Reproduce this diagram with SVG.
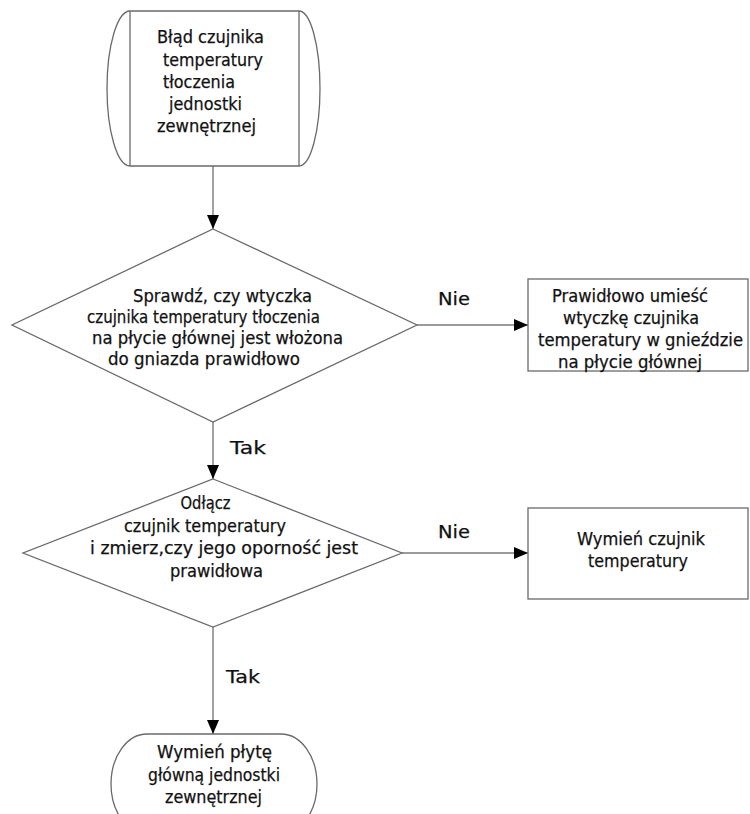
<svg xmlns="http://www.w3.org/2000/svg" width="750" height="814" viewBox="0 0 750 814">
<defs>
<style>
.shape{fill:#fff;stroke:#6a6a6a;stroke-width:1.3}
.conn{fill:none;stroke:#7a7a7a;stroke-width:1.4}
text{font-family:"DejaVu Sans","Verdana",sans-serif;font-size:17px;fill:#111;stroke:#111;stroke-width:0.25;text-anchor:middle}
.lbl{font-size:18px}
</style>
<marker id="arr" markerUnits="userSpaceOnUse" markerWidth="14" markerHeight="12" refX="14" refY="6" orient="auto">
<path d="M0,0 L14,6 L0,12 z" fill="#000"/>
</marker>
</defs>
<rect width="750" height="814" fill="#fff"/>

<g id="connectors">
<line class="conn" x1="213" y1="166" x2="213" y2="229" marker-end="url(#arr)"/>
<line class="conn" x1="213" y1="422" x2="213" y2="479" marker-end="url(#arr)"/>
<line class="conn" x1="213" y1="627" x2="213" y2="734" marker-end="url(#arr)"/>
<line class="conn" x1="417" y1="325" x2="528" y2="325" marker-end="url(#arr)"/>
<line class="conn" x1="402" y1="553" x2="528" y2="553" marker-end="url(#arr)"/>
<text class="lbl" x="248" y="454" textLength="36" lengthAdjust="spacingAndGlyphs">Tak</text>
<text class="lbl" x="243" y="683" textLength="34" lengthAdjust="spacingAndGlyphs">Tak</text>
<text class="lbl" x="454" y="305" textLength="32" lengthAdjust="spacingAndGlyphs">Nie</text>
<text class="lbl" x="454" y="538" textLength="32" lengthAdjust="spacingAndGlyphs">Nie</text>
</g>

<g id="start">
<path class="shape" d="M130,11 H299 A21,77.5 0 0 1 299,166 H130 A23,77.5 0 0 1 130,11 z"/>
<line class="shape" x1="130" y1="11" x2="130" y2="166"/>
<line class="shape" x1="299" y1="11" x2="299" y2="166"/>
<text x="210.5" y="43" textLength="107" lengthAdjust="spacingAndGlyphs">Błąd czujnika</text>
<text x="213" y="66" textLength="100" lengthAdjust="spacingAndGlyphs">temperatury</text>
<text x="199" y="88" textLength="72" lengthAdjust="spacingAndGlyphs">tłoczenia</text>
<text x="205.5" y="110" textLength="73" lengthAdjust="spacingAndGlyphs">jednostki</text>
<text x="206.5" y="132" textLength="99" lengthAdjust="spacingAndGlyphs">zewnętrznej</text>
</g>

<g id="decision1">
<polygon class="shape" points="213,229 417,325 213,422 12,325"/>
<text x="222.5" y="302" textLength="179" lengthAdjust="spacingAndGlyphs">Sprawdź, czy wtyczka</text>
<text x="203.5" y="323" textLength="233" lengthAdjust="spacingAndGlyphs">czujnika temperatury tłoczenia</text>
<text x="217.5" y="344" textLength="251" lengthAdjust="spacingAndGlyphs">na płycie głównej jest włożona</text>
<text x="204" y="365" textLength="192" lengthAdjust="spacingAndGlyphs">do gniazda prawidłowo</text>
</g>

<g id="fix-plug">
<rect class="shape" x="528" y="279" width="220" height="92"/>
<text x="630" y="302" textLength="156" lengthAdjust="spacingAndGlyphs">Prawidłowo umieść</text>
<text x="631" y="324" textLength="136" lengthAdjust="spacingAndGlyphs">wtyczkę czujnika</text>
<text x="640.5" y="346" textLength="205" lengthAdjust="spacingAndGlyphs">temperatury w gnieździe</text>
<text x="630" y="368" textLength="144" lengthAdjust="spacingAndGlyphs">na płycie głównej</text>
</g>

<g id="decision2">
<polygon class="shape" points="213,479 402,553 213,627 23,553"/>
<text x="205.5" y="509" textLength="50" lengthAdjust="spacingAndGlyphs">Odłącz</text>
<text x="205" y="532" textLength="162" lengthAdjust="spacingAndGlyphs">czujnik temperatury</text>
<text x="224" y="554" textLength="268" lengthAdjust="spacingAndGlyphs">i zmierz,czy jego oporność jest</text>
<text x="216.5" y="577" textLength="93" lengthAdjust="spacingAndGlyphs">prawidłowa</text>
</g>

<g id="replace-sensor">
<rect class="shape" x="528" y="508" width="220" height="91"/>
<text x="641" y="545" textLength="128" lengthAdjust="spacingAndGlyphs">Wymień czujnik</text>
<text x="638" y="567" textLength="100" lengthAdjust="spacingAndGlyphs">temperatury</text>
</g>

<g id="end">
<rect class="shape" x="111" y="734" width="206" height="100" rx="36" ry="50"/>
<text x="214.5" y="758" textLength="115" lengthAdjust="spacingAndGlyphs">Wymień płytę</text>
<text x="214" y="781" textLength="132" lengthAdjust="spacingAndGlyphs">główną jednostki</text>
<text x="213.5" y="803" textLength="97" lengthAdjust="spacingAndGlyphs">zewnętrznej</text>
</g>
</svg>
